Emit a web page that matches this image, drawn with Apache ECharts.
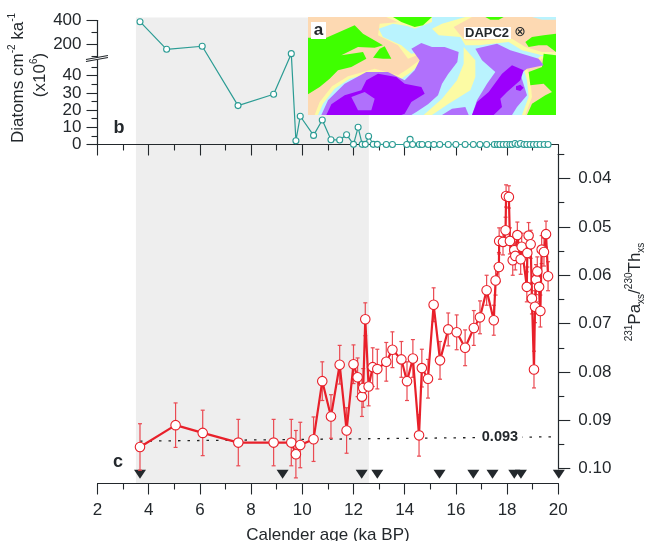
<!DOCTYPE html>
<html><head><meta charset="utf-8">
<style>html,body{margin:0;padding:0;background:#fff}#c{width:649px;height:541px}</style>
<script src="https://cdn.jsdelivr.net/npm/echarts@6/dist/echarts.min.js"></script>
</head><body><div id="c"></div>
<script>
// ---- data ----
const redAge = [3.66,5.05,6.11,7.50,8.88,9.57,9.75,9.92,10.44,10.78,11.12,11.46,11.73,12.00,12.16,12.33,12.38,12.46,12.59,12.75,12.93,13.28,13.52,13.87,14.09,14.32,14.56,14.67,14.91,15.13,15.38,15.70,16.03,16.36,16.70,16.94,17.20,17.48,17.55,17.68,17.69,17.84,17.94,17.96,18.07,18.11,18.22,18.28,18.32,18.40,18.53,18.57,18.77,18.79,18.84,18.92,18.97,19.05,19.09,19.13,19.18,19.25,19.30,19.35,19.44,19.52,19.60];
const redRatio = [.0955,.0910,.0926,.0946,.0946,.0946,.0970,.0951,.0939,.0819,.0892,.0785,.0921,.0784,.0811,.0851,.0833,.0691,.0830,.0790,.0794,.0779,.0754,.0774,.0819,.0772,.0931,.0792,.0814,.0661,.0776,.0712,.0718,.0750,.0709,.0687,.0631,.0693,.0611,.0583,.0529,.0531,.0507,.0436,.0438,.0529,.0569,.0548,.0560,.0517,.0567,.0541,.0624,.0554,.0518,.0536,.0648,.0795,.0665,.0609,.0592,.0624,.0674,.0547,.0552,.0515,.0602];
const redErr = [.0048,.0046,.0047,.0048,.0048,.0048,.0049,.0047,.0046,.0040,.0045,.0040,.0047,.0040,.0040,.0041,.0040,.0034,.0040,.0040,.0041,.0040,.0037,.0037,.0040,.0039,.0043,.0039,.0040,.0035,.0039,.0034,.0036,.0037,.0036,.0034,.0031,.0031,.0030,.0030,.0027,.0027,.0027,.0023,.0023,.0027,.0031,.0029,.0029,.0027,.0031,.0028,.0031,.0029,.0027,.0029,.0032,.0038,.0033,.0031,.0030,.0031,.0033,.0029,.0029,.0027,.0030];
const tealAge = [3.66,4.70,6.09,7.49,8.88,9.57,9.75,9.92,10.44,10.78,11.12,11.46,11.73,12.00,12.18,12.34,12.46,12.59,12.77,12.93,13.28,13.52,14.08,14.21,14.31,14.57,14.68,14.92,15.14,15.37,15.70,16.00,16.36,16.68,16.94,17.20,17.50,17.62,17.72,17.85,17.98,18.11,18.20,18.31,18.42,18.52,18.66,18.77,18.90,19.03,19.16,19.29,19.45,19.60];
const tealDiatoms = [390,155,181,22.6,29.2,118,2.2,16.4,5.3,14.2,2.8,2.6,5.7,0.1,10,0.1,0.1,4.8,0.1,0.1,0,0,0,3,0,0,0,0,0,0,0,0,0,0,0,0,0,0,0,0,0,0,0,0.6,0,0.6,0,0,0,0,0,0,0,0];
const wedgeAge = [3.66,9.23,12.32,12.93,15.36,16.68,17.43,18.28,18.54,20.02];
const trendAge = [3.66,19.9];
const trendRatio = [.0943,.0934];
const trendLabelAge = [17.72];
const trendLabelRatio = [.0935];
const trendLabel = '0.093';
const shadeAges = [3.5,12.6];
const ageMajor = [2,4,6,8,10,12,14,16,18,20];
const ageMinor = [3,5,7,9,11,13,15,17,19];
const diatomMajor = [0,10,20,30,40,200,400];
const diatomMinor = [5,15,25,35,45,100,300];
const ratioMajor = [.04,.05,.06,.07,.08,.09,.10];
const ratioMinor = [.035,.045,.055,.065,.075,.085,.095];
// ---- broken-axis mapping for panel b ----
const pack = v => v <= 50 ? v : 58.4 + (v - 200) * 0.0683;
const unpack = c => c <= 51 ? Math.round(c) : Math.round(200 + (c - 58.4) / 0.0683);

const INK = '#23282c', RED = '#e8202a', TEAL = '#2b9c94', FONT = '"Liberation Sans", Arial, sans-serif';
const L = 97.5, W = 460.8;

const tick = (vals, len) => ({show:true, length:len, customValues:vals, lineStyle:{color:INK, width:1.1}});
const line = {show:true, onZero:false, lineStyle:{color:INK, width:1.1}};

const xBase = (gridIndex, vals, len, extra) => Object.assign({
  type:'value', gridIndex, min:2, max:20, z:5, position:'bottom', splitLine:{show:false},
  axisLine:line, axisTick:tick(vals, len), axisLabel:{show:false}
}, extra);

const yCustom = (gridIndex, opts) => Object.assign({
  type:'value', gridIndex, z:5, splitLine:{show:false}, scale:true, axisLine:line
}, opts);

const option = {
  animation:false,
  backgroundColor:'#fff',
  textStyle:{fontFamily:FONT},
  grid:[
    {left:L, width:W, top:17.5, height:466, outerBoundsMode:'none'},
    {left:L, width:W, top:20.5, height:124, outerBoundsMode:'none'},
    {left:L, width:W, top:154.35, height:314.35, outerBoundsMode:'none'}
  ],
  xAxis:[
    xBase(0, ageMajor, 11, {axisLabel:{show:true, customValues:ageMajor, color:INK, fontSize:17, margin:18, fontFamily:FONT},
      name:'Calender age (ka BP)', nameLocation:'middle', nameGap:43,
      nameTextStyle:{color:INK, fontSize:17, fontFamily:FONT}}),
    xBase(1, ageMajor, 11),
    xBase(2, ageMajor, 11, {show:false}),
    xBase(0, ageMinor, 6),
    xBase(1, ageMinor, 6)
  ],
  yAxis:[
    {type:'value', gridIndex:0, min:0, max:1, show:false},
    yCustom(1, {min:0, max:pack(400), position:'left',
      axisTick:tick(diatomMajor.map(pack), 11),
      axisLabel:{show:true, customValues:diatomMajor.map(pack), color:INK, fontSize:17, margin:16, fontFamily:FONT,
        formatter:c => String(unpack(c))}}),
    yCustom(1, {min:0, max:pack(400), position:'left',
      axisTick:tick(diatomMinor.map(pack), 6), axisLabel:{show:false}}),
    yCustom(2, {min:.035, max:.10, inverse:true, position:'right',
      axisTick:tick(ratioMajor, 12),
      axisLabel:{show:true, customValues:ratioMajor, color:INK, fontSize:17, margin:20, fontFamily:FONT,
        formatter:v => v.toFixed(2)}}),
    yCustom(2, {min:.035, max:.10, inverse:true, position:'right',
      axisTick:tick(ratioMinor, 6), axisLabel:{show:false}})
  ],
  series:[
    {type:'line', xAxisIndex:0, yAxisIndex:0, z:1, data:[], silent:true,
      markArea:{silent:true, itemStyle:{color:'#eeeeee'},
        data:[[{xAxis:shadeAges[0], yAxis:0},{xAxis:shadeAges[1], yAxis:1}]]}},
    {type:'scatter', xAxisIndex:0, yAxisIndex:0, z:7, clip:false, symbol:'triangle', symbolRotate:180, symbolSize:[12,9],
      itemStyle:{color:INK, opacity:1}, data:wedgeAge.map(a => [a, 0.02])},
    {type:'line', xAxisIndex:1, yAxisIndex:1, z:7, clip:false, symbol:'circle', symbolSize:6, showAllSymbol:true,
      lineStyle:{color:TEAL, width:1.2},
      itemStyle:{color:'#fff', borderColor:TEAL, borderWidth:1.1},
      data:tealAge.map((a,i) => [a, pack(tealDiatoms[i])])},
    {type:'line', xAxisIndex:2, yAxisIndex:3, z:6, clip:false, symbol:'none',
      lineStyle:{color:'#222', width:1.3, type:[2.5,7]},
      data:trendAge.map((a,i) => [a, trendRatio[i]])},
    {type:'scatter', xAxisIndex:2, yAxisIndex:3, z:7, clip:false, symbolSize:0,
      itemStyle:{opacity:1},
      label:{show:true, position:'inside', formatter:trendLabel, color:INK, fontWeight:'bold', fontSize:14.5,
        fontFamily:FONT, backgroundColor:'#fff', padding:[0,4]},
      data:trendLabelAge.map((a,i) => [a, trendLabelRatio[i]])},
    {type:'custom', xAxisIndex:2, yAxisIndex:3, z:8, clip:false,
      encode:{x:0, y:[1,2]},
      data:redAge.map((a,i) => [a, redRatio[i]-redErr[i], redRatio[i]+redErr[i]]),
      renderItem:(p, api) => {
        const t = api.coord([api.value(0), api.value(1)]), b = api.coord([api.value(0), api.value(2)]);
        const style = {stroke:'#ea4a52', lineWidth:1.2, fill:null};
        return {type:'group', children:[
          {type:'line', shape:{x1:t[0],y1:t[1],x2:b[0],y2:b[1]}, style},
          {type:'line', shape:{x1:t[0]-2,y1:t[1],x2:t[0]+2,y2:t[1]}, style},
          {type:'line', shape:{x1:b[0]-2,y1:b[1],x2:b[0]+2,y2:b[1]}, style}
        ]};
      }},
    {type:'line', xAxisIndex:2, yAxisIndex:3, z:9, clip:false, symbol:'circle', symbolSize:9.5, showAllSymbol:true,
      lineStyle:{color:RED, width:2.2},
      itemStyle:{color:'#fff', borderColor:RED, borderWidth:1.1},
      data:redAge.map((a,i) => [a, redRatio[i]])}
  ],
  graphic:{elements:[]}
};

// ---- inset map (panel a): decorative shapes, traced in a 3x space ----
const C = {green:'#3fff00', peach:'#fdd9b2', yellow:'#fcfba4', cyan:'#b9f3fe', lav:'#b070fc', pur:'#9c00fc'};
const R = pts => pts.map(p => [p[0]+372, p[1]]);
const mapShapes = [
  [C.yellow,[[0,294],[0,0],[255,0],[320,30],[255,20],[212,35],[225,60],[280,85],[310,110],[340,105],[355,120],[310,165],[280,185],[200,165],[125,185],[80,215],[45,260],[30,294]]],
  [C.peach,[[0,294],[0,0],[240,0],[275,15],[215,20],[210,55],[270,85],[300,125],[335,112],[345,122],[300,155],[270,175],[200,155],[120,178],[72,208],[35,255],[20,294]]],
  [C.green,[[0,62],[55,62],[140,25],[165,50],[225,85],[200,92],[150,90],[100,115],[165,105],[175,125],[130,150],[90,160],[65,185],[35,210],[0,232]]],
  [C.green,[[195,122],[215,95],[230,88],[250,125],[225,125]]],
  [C.yellow,[[235,0],[372,0],[372,15],[320,35],[280,20]]],
  [C.green,[[255,0],[372,0],[345,25],[320,30],[280,15]]],
  [C.yellow,R([[0,35],[30,20],[100,0],[372,0],[372,110],[330,115],[270,100],[230,75],[140,85],[100,85],[85,60],[20,55]])],
  [C.peach,R([[65,30],[120,0],[372,0],[372,105],[330,105],[280,90],[240,65],[150,70],[100,70],[85,55]])],
  [C.cyan,R([[300,0],[372,0],[372,8],[330,8]])],
  [C.green,R([[160,0],[215,0],[200,8],[175,8]])],
  [C.green,R([[280,75],[300,60],[335,55],[372,50],[372,105],[345,85],[320,85],[290,90]])],
  [C.yellow,R([[275,155],[325,118],[372,110],[372,294],[270,294],[290,240],[285,190]])],
  [C.peach,R([[285,155],[330,125],[372,115],[372,294],[280,294],[300,240],[295,190]])],
  [C.green,R([[290,165],[330,150],[335,110],[372,115],[372,294],[285,294],[300,260],[340,235],[360,225],[335,200],[295,205]])],
  [C.yellow,R([[95,90],[130,130],[130,180],[115,220],[50,260],[0,294],[-25,294],[30,245],[75,190],[95,140]])],
  [C.lav,[[40,294],[60,250],[110,200],[175,165],[240,165],[290,190],[320,160],[335,130],[310,95],[340,78],[372,90],[410,90],[452,105],[448,135],[420,172],[402,200],[390,235],[360,262],[325,285],[310,294]]],
  [C.lav,R([[30,294],[60,275],[100,270],[110,294]])],
  [C.lav,R([[130,95],[195,80],[235,100],[320,125],[335,145],[285,155],[265,170],[285,235],[255,270],[240,294],[120,294],[135,250],[165,200],[190,165],[150,130]])],
  [C.pur,[[55,294],[70,262],[110,235],[160,220],[175,190],[210,170],[265,180],[290,200],[340,210],[350,230],[310,255],[290,290],[280,294]]],
  [C.lav,[[130,240],[170,225],[200,245],[190,280],[150,280]]],
  [C.pur,R([[120,294],[135,255],[170,225],[210,170],[240,145],[275,160],[265,190],[225,225],[205,245],[210,270],[185,294]])],
  [C.pur,R([[252,208],[265,203],[275,212],[265,222],[252,218]])]
];
const g = option.graphic.elements;
g.push({type:'group', x:308, y:17, scaleX:1/3, scaleY:1/3, z:3, silent:true, children:[
  {type:'rect', shape:{x:0,y:0,width:744,height:294}, style:{fill:C.cyan}, z:3},
  ...mapShapes.map(s => ({type:'polygon', shape:{points:s[1]}, style:{fill:s[0]}, z:3}))
]});
g.push({type:'rect', z:4, shape:{x:311,y:22,width:15,height:17}, style:{fill:'#fff'}});
g.push({type:'text', x:318.5, y:30, z:4, style:{text:'a', font:'bold 17px '+FONT, fill:INK, align:'center', verticalAlign:'middle'}});
g.push({type:'rect', z:4, shape:{x:464,y:27,width:47,height:12}, style:{fill:'#fff'}});
g.push({type:'text', x:465, y:33, z:4, style:{text:'DAPC2', font:'bold 13px '+FONT, fill:INK, align:'left', verticalAlign:'middle'}});
g.push({type:'text', x:520, y:32, z:4, style:{text:'\u2297', font:'14px "DejaVu Sans"', fill:INK, align:'center', verticalAlign:'middle'}});
// panel letters
g.push({type:'text', x:119, y:128, z:10, style:{text:'b', font:'bold 18px '+FONT, fill:INK, align:'center', verticalAlign:'middle'}});
g.push({type:'text', x:118, y:462, z:10, style:{text:'c', font:'bold 18px '+FONT, fill:INK, align:'center', verticalAlign:'middle'}});
// axis titles
const richT = {n:{fontSize:17, fontFamily:FONT, color:INK, lineHeight:22}, s:{fontSize:10, fontFamily:FONT, color:INK, lineHeight:22, verticalAlign:'top'}, b:{fontSize:10, fontFamily:FONT, color:INK, lineHeight:22, verticalAlign:'bottom'}};
g.push({type:'text', x:18, y:78, rotation:Math.PI/2, z:10, style:{text:'{n|Diatoms cm}{s|-2}{n| ka}{s|-1}', rich:richT, fill:INK, align:'center', verticalAlign:'middle'}});
g.push({type:'text', x:40, y:75, rotation:Math.PI/2, z:10, style:{text:'{n|(x10}{s|6}{n|)}', rich:richT, fill:INK, align:'center', verticalAlign:'middle'}});
g.push({type:'text', x:635, y:292, rotation:Math.PI/2, z:10, style:{text:'{s|231}{n|Pa}{b|xs}{n|/}{s|230}{n|Th}{b|xs}', rich:richT, fill:INK, align:'center', verticalAlign:'middle'}});
// axis-break mark
g.push({type:'polygon', z:6, shape:{points:[[86,59.5],[108,55.5],[108,58],[86,62]]}, style:{fill:'#fff'}});
g.push({type:'line', z:6, shape:{x1:86,y1:59.5,x2:108,y2:55.5}, style:{stroke:INK, lineWidth:1.1}});
g.push({type:'line', z:6, shape:{x1:86,y1:61.5,x2:108,y2:57.5}, style:{stroke:INK, lineWidth:1.1}});

const chart = echarts.init(document.getElementById('c'), null, {renderer:'canvas'});
chart.setOption(option);
</script></body></html>
